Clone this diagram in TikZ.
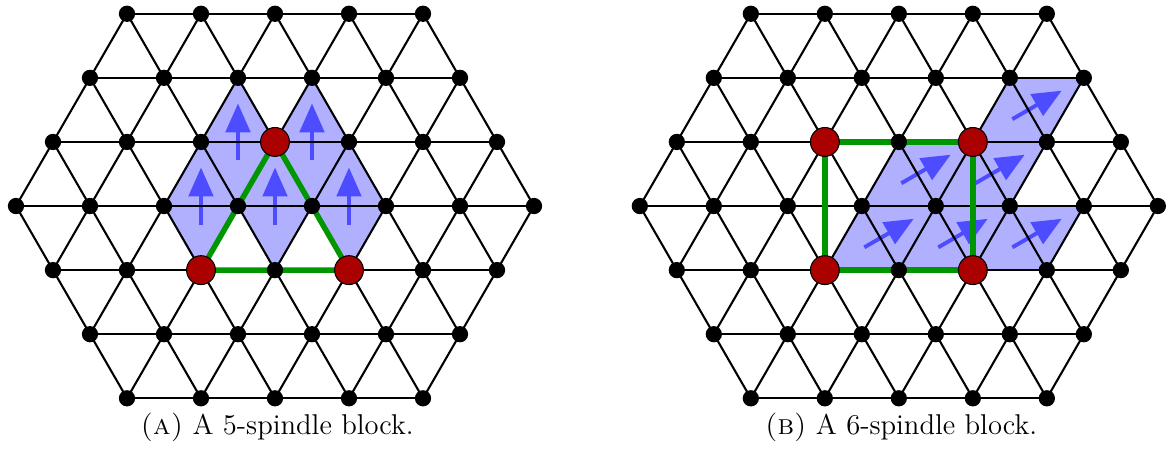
\documentclass[tikz,border=0pt]{standalone}
\usetikzlibrary{arrows.meta}
\definecolor{spindlered}{RGB}{170,0,0}
\definecolor{blockfill}{RGB}{176,176,255}
\definecolor{flowblue}{RGB}{77,77,255}
\definecolor{blockgreen}{RGB}{0,150,0}
\def\hh{0.866}
\begin{document}
\begin{tikzpicture}[
  dot/.style={circle,fill=black,inner sep=0pt,minimum size=2.2mm},
  spindle/.style={circle,draw=black,fill=spindlered,inner sep=0pt,minimum size=3.9mm,line width=0.4pt},
  edge/.style={line width=0.8pt},
  block/.style={blockgreen,line width=2.1pt},
  flow/.style={flowblue,line width=1.5pt,-{Triangle[length=3.9mm,width=3.3mm]}},
  caption/.style={anchor=base,font=\fontsize{11pt}{13pt}\selectfont}]
\useasboundingbox (-3.716,-3.284) rectangle (12.04,2.784);
% lattice points, rows 0..6 from the bottom
\foreach \p/\ox in {a/0,b/8.43}{
  \foreach \r in {0,...,6}{
    \pgfmathtruncatemacro\n{8-abs(\r-3)}
    \foreach \k in {1,...,\n}
      \coordinate (\p-\r-\k) at ({\ox+\k-(\n+1)/2},{(\r-3)*\hh});
  }
}
% (a) vertical spindles
\foreach \cx/\cy in {-0.5/1,0.5/1,-1/0,0/0,1/0}{
  \fill[blockfill] (\cx,\cy*\hh) ++(0,-\hh) -- ++(0.5,\hh) -- ++(-0.5,\hh) -- ++(-0.5,-\hh) -- cycle;
  \draw[flow] (\cx,\cy*\hh) ++(0,-0.25) -- ++(0,0.77);
}
% (b) slanted spindles
\foreach \cx/\cy in {-0.25/-0.5,0.75/-0.5,1.75/-0.5,0.25/0.5,1.25/0.5,1.75/1.5}{
  \fill[blockfill] (8.43+\cx,\cy*\hh) ++(-0.75,-0.5*\hh) -- ++(1,0) -- ++(0.5,\hh) -- ++(-1,0) -- cycle;
  \draw[flow] (8.43+\cx,\cy*\hh) ++(210:0.25) -- ++(30:0.77);
}
% lattice edges
\foreach \p in {a,b}{
  \foreach \r in {0,...,6}{
    \pgfmathtruncatemacro\m{7-abs(\r-3)}
    \foreach \k [evaluate=\k as \kk using int(\k+1)] in {1,...,\m}
      \draw[edge] (\p-\r-\k) -- (\p-\r-\kk);
  }
  \foreach \r in {0,1,2}{
    \pgfmathtruncatemacro\n{5+\r}
    \pgfmathtruncatemacro\s{\r+1}
    \foreach \k [evaluate=\k as \kk using int(\k+1)] in {1,...,\n}
      \draw[edge] (\p-\s-\k) -- (\p-\r-\k) -- (\p-\s-\kk);
  }
  \foreach \r in {4,5,6}{
    \pgfmathtruncatemacro\n{11-\r}
    \pgfmathtruncatemacro\s{\r-1}
    \foreach \k [evaluate=\k as \kk using int(\k+1)] in {1,...,\n}
      \draw[edge] (\p-\s-\k) -- (\p-\r-\k) -- (\p-\s-\kk);
  }
}
% blocks
\draw[block] (a-2-3) -- (a-2-5) -- (a-4-4) -- cycle;
\draw[block] (b-2-3) -- (b-2-5) -- (b-4-5) -- (b-4-3) -- cycle;
% vertices
\foreach \p in {a,b}{
  \foreach \r in {0,...,6}{
    \pgfmathtruncatemacro\n{8-abs(\r-3)}
    \foreach \k in {1,...,\n}
      \node[dot] (\p-\r-\k-dot) at (\p-\r-\k) {};
  }
}
\foreach \v in {a-2-3,a-2-5,a-4-4,b-2-3,b-2-5,b-4-3,b-4-5}
  \node[spindle] (\v-sp) at (\v) {};
\node[caption] (capa) at (0.03,-3.09) {\textsc{(a)} A 5-spindle block.};
\node[caption] (capb) at (8.46,-3.09) {\textsc{(b)} A 6-spindle block.};
\end{tikzpicture}
\end{document}
